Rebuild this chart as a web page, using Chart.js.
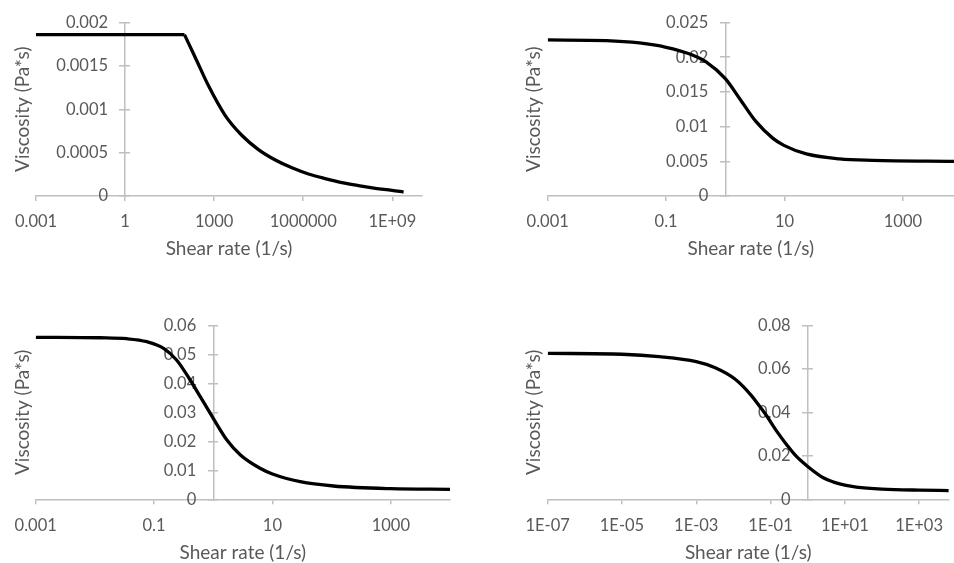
<!DOCTYPE html>
<html><head><meta charset="utf-8">
<script src="https://cdn.jsdelivr.net/npm/chart.js@4"></script>
<style>
html,body{margin:0;padding:0;background:#fff;}
#wrap{position:relative;width:954px;height:563px;overflow:hidden;background:#fff;}
canvas{position:absolute;}
</style></head><body>
<div id="wrap">
<canvas id="c1" width="477" height="282" style="left:0;top:0"></canvas>
<canvas id="c2" width="477" height="282" style="left:477px;top:0"></canvas>
<canvas id="c3" width="477" height="285" style="left:0;top:282px"></canvas>
<canvas id="c4" width="477" height="285" style="left:477px;top:282px"></canvas>
</div>
<script>
const xTitle = 'Shear rate (1/s)';
const yTitle = 'Viscosity (Pa*s)';

// Chart 1 (top left)
const c1FlatRate = [0.001, 100];
const c1FlatVisc = [0.00186, 0.00186];
const c1Rate = [100, 229, 646, 2340, 8500, 31000, 115000, 417000, 1.5e6, 5.5e6, 2e7, 7.2e7, 2.7e8, 9.8e8, 2.4e9];
const c1Visc = [0.00186, 0.00160, 0.00127, 0.00093, 0.000700, 0.000535, 0.000415, 0.000325, 0.000254, 0.000201, 0.000155, 0.00012, 0.000089, 0.000066, 0.000046];
const c1XTicks = [1e-3, 1, 1e3, 1e6, 1e9];
const c1XLabels = ['0.001', '1', '1000', '1000000', '1E+09'];
const c1YTicks = [0, 0.0005, 0.001, 0.0015, 0.002];
const c1YLabels = ['0', '0.0005', '0.001', '0.0015', '0.002'];

// Chart 2 (top right)
const c2Rate = [0.001, 0.00977, 0.0355, 0.1, 0.245, 0.48, 1, 1.74, 3.31, 6.31, 9.77, 23.4, 85, 309, 7300];
const c2Visc = [0.02249, 0.02239, 0.02205, 0.02143, 0.02049, 0.01929, 0.0169, 0.01406, 0.01071, 0.00834, 0.00729, 0.00606, 0.00534, 0.00514, 0.00500];
const c2XTicks = [1e-3, 0.1, 10, 1000];
const c2XLabels = ['0.001', '0.1', '10', '1000'];
const c2YTicks = [0, 0.005, 0.01, 0.015, 0.02, 0.025];
const c2YLabels = ['0', '0.005', '0.01', '0.015', '0.02', '0.025'];

// Chart 3 (bottom left)
const c3Rate = [0.001, 0.0123, 0.0347, 0.0759, 0.145, 0.24, 0.407, 0.603, 1, 1.70, 2.88, 6.17, 10, 29.5, 107, 1000, 10000];
const c3Visc = [0.05586, 0.0557, 0.05538, 0.05434, 0.05207, 0.04803, 0.04114, 0.03538, 0.02793, 0.02045, 0.01528, 0.01069, 0.00872, 0.00607, 0.00459, 0.00366, 0.00345];
const c3XTicks = [1e-3, 0.1, 10, 1000];
const c3XLabels = ['0.001', '0.1', '10', '1000'];
const c3YTicks = [0, 0.01, 0.02, 0.03, 0.04, 0.05, 0.06];
const c3YLabels = ['0', '0.01', '0.02', '0.03', '0.04', '0.05', '0.06'];

// Chart 4 (bottom right)
const c4Rate = [1e-7, 1e-5, 1e-4, 0.001, 0.00324, 0.011, 0.0302, 0.0447, 0.0741, 0.151, 0.275, 0.49, 1, 2.63, 5, 10, 20.4, 100, 1000, 6300];
const c4Visc = [0.0671, 0.0667, 0.0656, 0.0633, 0.0605, 0.0553, 0.0478, 0.0440, 0.0390, 0.0310, 0.0250, 0.0198, 0.0151, 0.0099, 0.0079, 0.0065, 0.0056, 0.0047, 0.0042, 0.0040];
const c4XTicks = [1e-7, 1e-5, 1e-3, 1e-1, 10, 1000];
const c4XLabels = ['1E-07', '1E-05', '1E-03', '1E-01', '1E+01', '1E+03'];
const c4YTicks = [0, 0.02, 0.04, 0.06, 0.08];
const c4YLabels = ['0', '0.02', '0.04', '0.06', '0.08'];

const AX = '#bfbfbf';
const TXT = '#595959';
const tickFont = {family: 'Lato', size: 16.5};
const titleFont = {family: 'Lato', size: 19};
const Y_LABEL_GAP = 17;

// Linear scale placed on the chart area whose labels sit a gap left of the axis line
class CenterLinear extends Chart.LinearScale {
  _computeLabelItems(chartArea) {
    const items = super._computeLabelItems(chartArea);
    items.forEach(it => {
      const t = it.options.translation;
      it.options.translation = [t[0] - Y_LABEL_GAP, t[1]];
    });
    return items;
  }
}
CenterLinear.id = 'centerLinear';
CenterLinear.defaults = Chart.LinearScale.defaults;
Chart.register(CenterLinear);

function pts(xs, ys) { return xs.map((x, i) => ({x: x, y: ys[i]})); }

function makeChart(id, o) {
  new Chart(document.getElementById(id), {
    type: 'scatter',
    data: {
      datasets: o.series.map(s => ({
        data: pts(s[0], s[1]), showLine: true, borderColor: '#000', backgroundColor: '#000',
        borderWidth: 3.3, pointRadius: 0, cubicInterpolationMode: 'monotone', fill: false,
        xAxisID: 'x', yAxisID: 'y'
      }))
    },
    options: {
      responsive: false, animation: false, events: [],
      plugins: {legend: {display: false}, tooltip: {enabled: false}},
      layout: {padding: {left: o.padL, right: o.padR, top: o.padT, bottom: o.padB}},
      scales: {
        x: {
          type: 'logarithmic', position: 'bottom', min: o.xMin, max: o.xMax,
          afterBuildTicks: s => { s.ticks = o.xTicks.map(v => ({value: v})); },
          afterFit: s => { s.height = o.xH; },
          ticks: {autoSkip: false, maxRotation: 0, minRotation: 0, padding: 11, color: TXT, font: tickFont,
                  callback: (v, i) => o.xLabels[i]},
          grid: {drawOnChartArea: false, drawTicks: true, tickLength: 5, color: AX, lineWidth: 1.5},
          border: {display: true, color: AX, width: 1.5},
          title: {display: true, text: xTitle, color: TXT, font: titleFont, padding: {top: 0, bottom: 0}}
        },
        y: {
          type: 'centerLinear', position: {x: 1}, min: 0, max: o.yMax,
          afterBuildTicks: s => { s.ticks = o.yTicks.map(v => ({value: v})); },
          ticks: {padding: 12, color: TXT, font: tickFont, callback: (v, i) => o.yLabels[i]},
          grid: {drawOnChartArea: false, drawTicks: true, tickLength: 5, color: AX, lineWidth: 1.5},
          border: {display: true, color: AX, width: 1.5}
        },
        y2: {
          type: 'linear', position: {x: 1}, min: 0, max: o.yMax,
          afterBuildTicks: s => { s.ticks = o.yTicks.map(v => ({value: v})); },
          ticks: {display: false},
          grid: {drawOnChartArea: false, drawTicks: true, tickLength: -5, color: AX, lineWidth: 1.5},
          border: {display: false}
        },
        yt: {
          type: 'linear', position: 'left',
          afterFit: s => { s.width = o.ytW; },
          ticks: {display: false},
          grid: {display: false, drawTicks: false},
          border: {display: false},
          title: {display: true, text: yTitle, color: TXT, font: titleFont, padding: {top: 0, bottom: 0}}
        }
      }
    }
  });
}

makeChart('c1', {series: [[c1FlatRate, c1FlatVisc], [c1Rate, c1Visc]], xMin: 1e-3, xMax: 1e10, yMax: 0.002,
  xTicks: c1XTicks, xLabels: c1XLabels, yTicks: c1YTicks, yLabels: c1YLabels,
  padL: 11.6, ytW: 24.4, padR: 55, padT: 22.5, padB: 22, xH: 64});
makeChart('c2', {series: [[c2Rate, c2Visc]], xMin: 1e-3, xMax: 7300, yMax: 0.025,
  xTicks: c2XTicks, xLabels: c2XLabels, yTicks: c2YTicks, yLabels: c2YLabels,
  padL: 45.6, ytW: 25.1, padR: 0, padT: 22.5, padB: 22, xH: 64});
makeChart('c3', {series: [[c3Rate, c3Visc]], xMin: 1e-3, xMax: 1e4, yMax: 0.06,
  xTicks: c3XTicks, xLabels: c3XLabels, yTicks: c3YTicks, yLabels: c3YLabels,
  padL: 11.6, ytW: 24.1, padR: 27, padT: 43.3, padB: 2.3, xH: 65.4});
makeChart('c4', {series: [[c4Rate, c4Visc]], xMin: 1e-7, xMax: 6300, yMax: 0.08,
  xTicks: c4XTicks, xLabels: c4XLabels, yTicks: c4YTicks, yLabels: c4YLabels,
  padL: 45.6, ytW: 25.1, padR: 0, padT: 43.3, padB: 2.3, xH: 65.4});
</script>
</body></html>
